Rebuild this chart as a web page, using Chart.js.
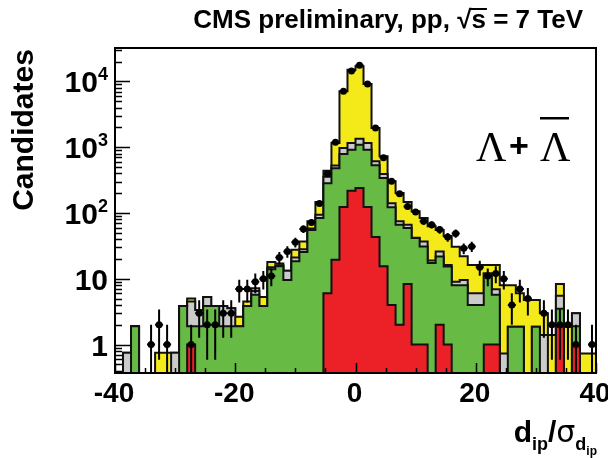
<!DOCTYPE html>
<html>
<head>
<meta charset="utf-8">
<script src="https://cdn.jsdelivr.net/npm/chart.js@4.4.1/dist/chart.umd.min.js"></script>
<style>
  html, body { margin: 0; padding: 0; background: #fff; }
</style>
</head>
<body>
<canvas id="ipChart" width="608" height="458"></canvas>
<script>
// 60 bins of width 4/3 between -40 and 40
const BIN_LOW = -40;
const BIN_HIGH = 40;
const N_BINS = 60;

// observed candidates per bin
const dataCounts = [
  0, 0, 0, 0, 1, 2, 1, 0, 0, 1,
  3, 2, 2, 3, 3, 7, 7, 9, 10, 11,
  21, 26, 36, 57, 72, 140, 394, 1195, 7100, 14400,
  17700, 9160, 1960, 690, 303, 196, 126, 104, 75, 66,
  56, 43, 49, 29, 31, 15, 11, 12, 10, 4,
  7, 5, 0, 3, 2, 2, 2, 1, 0, 1
];

// simulated contributions, stacked bottom (red) to top (yellow)
const redMC = [
  0, 0, 0, 0, 0, 0, 0, 0, 0, 1,
  0, 0, 0, 0, 0, 0, 0, 0, 0, 0,
  0, 0, 0, 0, 0, 0, 6, 19.5, 123, 218,
  240, 123, 43, 15.5, 4, 2, 8.3, 1, 1, 0,
  2, 1, 0, 0, 0, 0, 1, 1, 0, 0,
  0, 0, 0, 0, 0, 1.87, 0, 1, 0, 0
];
const greenMC = [
  0, 0, 1.9, 0, 0, 0, 0, 0, 3.85, 0.9,
  1.9, 3.85, 3.85, 1.9, 1.9, 1.9, 3.85, 5.7, 3.85, 14,
  15.5, 9.6, 18.4, 25.5, 55, 84, 278, 458, 666, 702,
  850, 797, 488, 325, 118, 64, 50.7, 40.7, 30, 17.4,
  19.9, 14.3, 8, 8, 4, 4, 11, 4.7, 0, 1.87,
  1.87, 0, 1.87, 0, 0, 1.63, 0, 0.9, 0, 0
];
const grayMC = [
  0, 0.75, 0, 0, 0, 0, 0, 0.75, 0, 2.6,
  1.45, 1.45, 0, 1.95, 1.65, 0, 0, 0.8, 0, 1,
  0.5, 3.6, 2.6, 2.5, 3, 10, 71, 52, 186, 240,
  260, 240, 80, 50, 19, 9, 7, 0.3, 6, 1.6,
  4.1, 0.9, 1, 1.6, 2, 2, 0, 1.2, 0.73, 0,
  0, 0, 0, 1.4, 0, 2, 0, 1.1, 0, 0
];
const yellowMC = [
  0, 0, 0, 0, 0, 0.75, 0.75, 0, 0, 0.5,
  0, 0, 0, 0, 0, 0.75, 0.65, 0.7, 1.45, 3,
  1, 0, 6.7, 9, 17, 53, 86, 630, 6125, 13940,
  15650, 8000, 1349, 338, 162, 126, 81, 64, 47, 44,
  29, 28.6, 21.6, 12.4, 10.2, 10.2, 4.2, 9.3, 7.27, 6.13,
  4.13, 4.75, 2.88, 1.6, 1.4, 2.8, 1.87, 0, 0.73, 0.73
];

const xTickValues = [-40, -20, 0, 20, 40];
const yTickValues = [1, 10, 100, 1000, 10000];
const yTickBase = ['1', '10', '10', '10', '10'];
const yTickExp = ['', '', '2', '3', '4'];

const Y_MIN = 0.369;
const Y_MAX = 32300;
const FLOOR = 0.05;           // empty bins go below the axis and get clipped
const BIN_W = (BIN_HIGH - BIN_LOW) / N_BINS;
const BOLD = '"Liberation Sans", Arial, Helvetica, sans-serif';

// running sums give the top edge of each stacked layer
function cumulate(...layers) {
  return layers[0].map((_, i) => layers.reduce((s, l) => s + l[i], 0));
}

function stepPoints(values) {
  const pts = values.map((v, i) => ({ x: BIN_LOW + i * BIN_W, y: v > 0 ? v : FLOOR }));
  const last = values[values.length - 1];
  pts.push({ x: BIN_HIGH, y: last > 0 ? last : FLOOR });
  return pts;
}

function histLayer(values, color, order) {
  return {
    data: stepPoints(values),
    stepped: 'before',
    fill: 'start',
    backgroundColor: color,
    borderColor: '#111',
    borderWidth: 2,
    pointRadius: 0,
    order: order
  };
}

const dataPoints = dataCounts.map((n, i) => ({
  x: BIN_LOW + (i + 0.5) * BIN_W,
  y: n > 0 ? n : null
}));

// error bars, tick marks, frame and axis text in ROOT style
const rootAxes = {
  id: 'rootAxes',
  afterDatasetsDraw(chart) {
    const { ctx, chartArea: a, scales: { x, y } } = chart;
    ctx.save();

    // Poisson error bars on the data
    ctx.beginPath();
    ctx.rect(a.left, a.top, a.right - a.left, a.bottom - a.top);
    ctx.clip();
    ctx.strokeStyle = '#000';
    ctx.lineWidth = 2;
    ctx.beginPath();
    dataCounts.forEach((n, i) => {
      if (n <= 0) return;
      const cx = x.getPixelForValue(BIN_LOW + (i + 0.5) * BIN_W);
      const x0 = x.getPixelForValue(BIN_LOW + i * BIN_W);
      const x1 = x.getPixelForValue(BIN_LOW + (i + 1) * BIN_W);
      const err = Math.sqrt(n);
      const lo = n - err > 0 ? y.getPixelForValue(n - err) : a.bottom;
      const hi = y.getPixelForValue(n + err);
      const cy = y.getPixelForValue(n);
      ctx.moveTo(cx, lo); ctx.lineTo(cx, hi);
      ctx.moveTo(x0, cy); ctx.lineTo(x1, cy);
    });
    ctx.stroke();
    ctx.restore();

    ctx.save();
    ctx.strokeStyle = '#000';
    ctx.lineWidth = 1.5;
    ctx.beginPath();
    for (let d = -1; d <= 4; d++) {
      for (let m = 1; m <= 9; m++) {
        const v = m * Math.pow(10, d);
        if (v < Y_MIN || v > Y_MAX) continue;
        const py = Math.round(y.getPixelForValue(v)) + 0.5;
        ctx.moveTo(a.left, py);
        ctx.lineTo(a.left + (m === 1 ? 15 : 7), py);
      }
    }
    for (let v = BIN_LOW; v <= BIN_HIGH; v += 5) {
      const px = Math.round(x.getPixelForValue(v)) + 0.5;
      ctx.moveTo(px, a.bottom);
      ctx.lineTo(px, a.bottom - (v % 20 === 0 ? 10 : 5));
    }
    ctx.stroke();

    ctx.lineWidth = 2;
    ctx.strokeRect(a.left, a.top, a.right - a.left, a.bottom - a.top);
    ctx.restore();
  },
  afterDraw(chart) {
    const { ctx, chartArea: a, scales: { x, y } } = chart;
    ctx.save();
    ctx.fillStyle = '#000';

    // x tick labels
    ctx.font = 'bold 28px ' + BOLD;
    ctx.textAlign = 'center';
    ctx.textBaseline = 'alphabetic';
    xTickValues.forEach(v => {
      ctx.fillText(String(v), x.getPixelForValue(v) - 1, 402);
    });

    // y tick labels, powers of ten with raised exponent
    yTickValues.forEach((v, i) => {
      const py = y.getPixelForValue(v);
      ctx.textAlign = 'right';
      let right = 108;
      if (yTickExp[i]) {
        ctx.font = 'bold 18px ' + BOLD;
        ctx.fillText(yTickExp[i], right, py - 1);
        right -= ctx.measureText(yTickExp[i]).width;
      }
      ctx.font = 'bold 30px ' + BOLD;
      ctx.fillText(yTickBase[i], right, py + 11);
    });

    // y axis title
    ctx.save();
    ctx.translate(33, 130);
    ctx.rotate(-Math.PI / 2);
    ctx.textAlign = 'center';
    ctx.font = 'bold 30px ' + BOLD;
    ctx.fillText('Candidates', 0, 0);
    ctx.restore();

    // x axis title d_ip / sigma_(d_ip), right aligned to the frame
    const parts = [
      { t: 'd', f: 'bold 30px ' + BOLD, dy: 0 },
      { t: 'ip', f: 'bold 18px ' + BOLD, dy: 8 },
      { t: '/', f: 'bold 30px ' + BOLD, dy: 0 },
      { t: 'σ', f: '30px "DejaVu Sans", sans-serif', dy: 0 },
      { t: 'd', f: 'bold 18px ' + BOLD, dy: 8 },
      { t: 'ip', f: 'bold 12px ' + BOLD, dy: 13 }
    ];
    let total = 0;
    parts.forEach(p => { ctx.font = p.f; p.w = ctx.measureText(p.t).width; total += p.w; });
    let px = 597 - total;
    ctx.textAlign = 'left';
    parts.forEach(p => {
      ctx.font = p.f;
      ctx.fillText(p.t, px, 442 + p.dy);
      px += p.w;
    });

    // header
    ctx.textAlign = 'right';
    ctx.font = 'bold 26px ' + BOLD;
    ctx.fillText('CMS preliminary, pp, \u221As = 7 TeV', 583, 28);
    // overline on the s under the root sign
    const sW = ctx.measureText('s = 7 TeV').width;
    const sOnly = ctx.measureText('s').width;
    ctx.fillRect(583 - sW - 1, 8, sOnly + 2, 2);

    // Lambda + anti-Lambda
    ctx.textAlign = 'left';
    ctx.font = '42px "Liberation Serif", "Times New Roman", serif';
    ctx.fillText('\u039B', 476, 161);
    ctx.fillText('\u039B', 540, 161);
    ctx.fillRect(540, 117, 29, 2.5);
    ctx.font = 'bold 34px ' + BOLD;
    ctx.fillText('+', 509, 157);
    ctx.restore();
  }
};

const T = cumulate(redMC, greenMC, grayMC, yellowMC);
const S = cumulate(redMC, greenMC, grayMC);
const G = cumulate(redMC, greenMC);
const R = cumulate(redMC);

new Chart(document.getElementById('ipChart'), {
  type: 'line',
  data: {
    datasets: [
      {
        data: dataPoints,
        showLine: false,
        pointRadius: 3.5,
        pointBackgroundColor: '#000',
        pointBorderWidth: 0,
        order: 0
      },
      histLayer(R, '#ec2027', 1),
      histLayer(G, '#67bb45', 2),
      histLayer(S, '#cbcbcb', 3),
      histLayer(T, '#f4ea1a', 4)
    ]
  },
  options: {
    responsive: false,
    animation: false,
    devicePixelRatio: 1,
    layout: { padding: { left: 115, right: 12, top: 48, bottom: 85 } },
    plugins: { legend: { display: false }, tooltip: { enabled: false } },
    scales: {
      x: { type: 'linear', min: BIN_LOW, max: BIN_HIGH, display: false },
      y: { type: 'logarithmic', min: Y_MIN, max: Y_MAX, display: false }
    }
  },
  plugins: [rootAxes]
});
</script>
</body>
</html>
